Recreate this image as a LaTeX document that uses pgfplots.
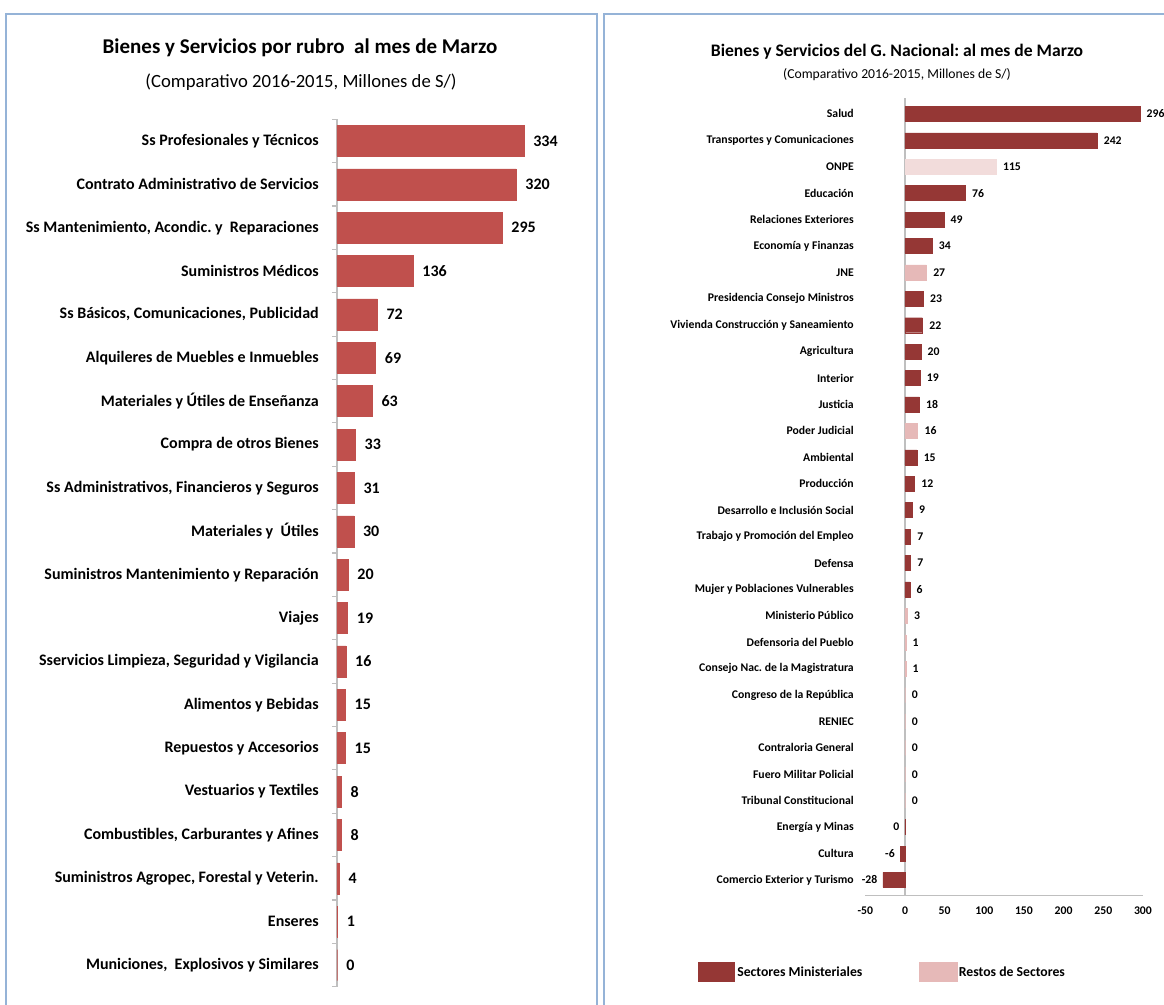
\documentclass[border=0pt]{standalone}
\usepackage{pgfplots}
\pgfplotsset{compat=1.18}
\usepackage{pgfplotstable}
\usepackage{fontspec}
\setmainfont{Carlito}
\frenchspacing
\definecolor{barL}{HTML}{C0504D}
\definecolor{barM}{HTML}{953735}
\definecolor{barR}{HTML}{E6B9B8}
\definecolor{barO}{HTML}{F2DCDB}
\definecolor{axgray}{HTML}{BFBFBF}
\definecolor{frameblue}{HTML}{95B3D7}

\pgfplotstableread[col sep=semicolon]{
i;v;l
0;334;334
-1;320;320
-2;295;295
-3;136;136
-4;72;72
-5;69;69
-6;63;63
-7;33;33
-8;31;31
-9;30;30
-10;20;20
-11;19;19
-12;16;16
-13;15;15
-14;15;15
-15;8;8
-16;8;8
-17;4;4
-18;1;1
-19;0;0
}\leftdata

\pgfplotstableread[col sep=semicolon]{
i;v;l
0;296;296
-1;242;242
-3;76;76
-4;49;49
-5;34;34
-7;23;23
-8;22;22
-9;20;20
-10;19;19
-11;18;18
-13;15;15
-14;12;12
-15;9;9
-16;7;7
-17;7;7
-18;6;6
}\minpos

\pgfplotstableread[col sep=semicolon]{
i;v;l
-27;-0.2;0
-28;-6;-6
-29;-28;-28
}\minneg

\pgfplotstableread[col sep=semicolon]{
i;v;l
-6;27;27
-12;16;16
-19;3;3
-20;1;1
-21;1;1
-22;0;0
-23;0;0
-24;0;0
-25;0;0
-26;0;0
}\restos

\pgfplotstableread[col sep=semicolon]{
i;v;l
-2;115;115
}\onpe

\begin{document}
\begin{tikzpicture}
\useasboundingbox (0,0) rectangle (873pt,753.75pt);
% panel frames
\draw[frameblue, line width=0.8pt] (4.5pt,0) -- (4.5pt,743.25pt) -- (447.75pt,743.25pt) -- (447.75pt,0);
\draw[frameblue, line width=0.8pt] (453pt,0) -- (453pt,743.25pt) -- (875pt,743.25pt);
% titles
\node[font=\fontsize{15.75}{18}\selectfont\bfseries] at (225pt,717.75pt) {Bienes y Servicios por rubro\ \ al mes de Marzo};
\node[font=\fontsize{14}{16}\selectfont] at (225.75pt,692.25pt) {(Comparativo 2016-2015, Millones de S/)};
\node[font=\fontsize{13.2}{15}\selectfont\bfseries] at (672.75pt,714.75pt) {Bienes y Servicios del G. Nacional: al mes de Marzo};
\node[font=\fontsize{10.25}{12}\selectfont] at (672.75pt,697.5pt) {(Comparativo 2016-2015, Millones de S/)};

% left chart
\begin{axis}[
  at={(252.75pt,13.7pt)}, anchor=south west,
  scale only axis, width=168pt, height=650.6pt,
  xbar, bar width=23.25pt, bar shift=0pt,
  xmin=0, xmax=400, ymin=-19.5, ymax=0.5,
  enlargelimits=false, clip=false,
  axis x line=none, axis y line*=left,
  y axis line style={axgray, line width=0.8pt},
  ytick={-19,...,0},
  minor ytick={-19.5,-18.5,...,0.5},
  major tick length=0pt, minor tick length=3.75pt,
  tick align=outside,
  minor tick style={axgray, line width=0.8pt},
  tick label style={font=\fontsize{12}{14}\selectfont\bfseries},
  yticklabel style={inner sep=0pt, xshift=-13.5pt},
  yticklabels={
    {Municiones,\ \ Explosivos y Similares},
    Enseres,
    {Suministros Agropec, Forestal y Veterin.},
    {Combustibles, Carburantes y Afines},
    Vestuarios y Textiles,
    Repuestos y Accesorios,
    Alimentos y Bebidas,
    {Sservicios Limpieza, Seguridad y Vigilancia},
    Viajes,
    Suministros Mantenimiento y Reparación,
    Materiales y\ \ Útiles,
    {Ss Administrativos, Financieros y Seguros},
    Compra de otros Bienes,
    Materiales y Útiles de Enseñanza,
    Alquileres de Muebles e Inmuebles,
    {Ss Básicos, Comunicaciones, Publicidad},
    Suministros Médicos,
    {Ss Mantenimiento, Acondic. y\ \ Reparaciones},
    Contrato Administrativo de Servicios,
    Ss Profesionales y Técnicos},
  point meta=explicit symbolic,
  nodes near coords,
  nodes near coords style={font=\fontsize{12}{14}\selectfont\bfseries, anchor=west, inner sep=0pt, xshift=6.75pt},
]
\addplot[fill=barL, draw=barL, line width=0.4pt] table[x=v, y=i, meta=l] {\leftdata};
\end{axis}

% right chart
\begin{axis}[
  at={(649pt,81.9pt)}, anchor=south west,
  scale only axis, width=208.2pt, height=596.3pt,
  xbar, bar width=11.25pt, bar shift=0pt,
  xmin=-50, xmax=300, ymin=-29.6, ymax=0.5,
  enlargelimits=false, clip=false,
  axis x line*=bottom, axis y line*=left,
  x axis line style={axgray, line width=0.9pt, -},
  y axis line style={draw=none},
  xtick={-50,0,50,100,150,200,250,300},
  xticklabels={-50,0,50,100,150,200,250,300},
  ytick={-29,...,0},
  major tick length=0pt,
  tick label style={font=\fontsize{8.8}{10}\selectfont\bfseries},
  yticklabel style={inner sep=0pt, xshift=-8.5pt},
  xticklabel style={inner sep=0pt, yshift=-8pt},
  yticklabels={
    Comercio Exterior y Turismo,
    Cultura,
    Energía y Minas,
    Tribunal Constitucional,
    Fuero Militar Policial,
    Contraloria General,
    RENIEC,
    Congreso de la República,
    Consejo Nac. de la Magistratura,
    Defensoria del Pueblo,
    Ministerio Público,
    Mujer y Poblaciones Vulnerables,
    Defensa,
    Trabajo y Promoción del Empleo,
    Desarrollo e Inclusión Social,
    Producción,
    Ambiental,
    Poder Judicial,
    Justicia,
    Interior,
    Agricultura,
    Vivienda Construcción y Saneamiento,
    Presidencia Consejo Ministros,
    JNE,
    Economía y Finanzas,
    Relaciones Exteriores,
    Educación,
    ONPE,
    Transportes y Comunicaciones,
    Salud},
  point meta=explicit symbolic,
  nodes near coords,
  nodes near coords style={font=\fontsize{8.8}{10}\selectfont\bfseries, anchor=west, inner sep=0pt, xshift=5pt},
]
\draw[axgray, line width=0.9pt] (axis cs:0,-29.6) -- (axis cs:0,0.6);
\addplot[fill=barM, draw=barM, line width=0.3pt] table[x=v, y=i, meta=l] {\minpos};
\addplot[fill=barM, draw=barM, line width=0.3pt, nodes near coords style={anchor=east, xshift=-9pt}] table[x=v, y=i, meta=l] {\minneg};
\addplot[fill=barR, draw=barR, line width=0.3pt] table[x=v, y=i, meta=l] {\restos};
\addplot[fill=barO, draw=barO, line width=0.3pt] table[x=v, y=i, meta=l] {\onpe};
\end{axis}

% legend
\fill[barM] (523.5pt,17.25pt) rectangle (551.25pt,32.25pt);
\node[anchor=west, inner sep=0pt, font=\fontsize{10.3}{12}\selectfont\bfseries] at (552.75pt,24.75pt) {Sectores Ministeriales};
\fill[barR] (689.25pt,17.25pt) rectangle (718.5pt,32.25pt);
\node[anchor=west, inner sep=0pt, font=\fontsize{10.3}{12}\selectfont\bfseries] at (719pt,24.75pt) {Restos de Sectores};
\end{tikzpicture}
\end{document}
